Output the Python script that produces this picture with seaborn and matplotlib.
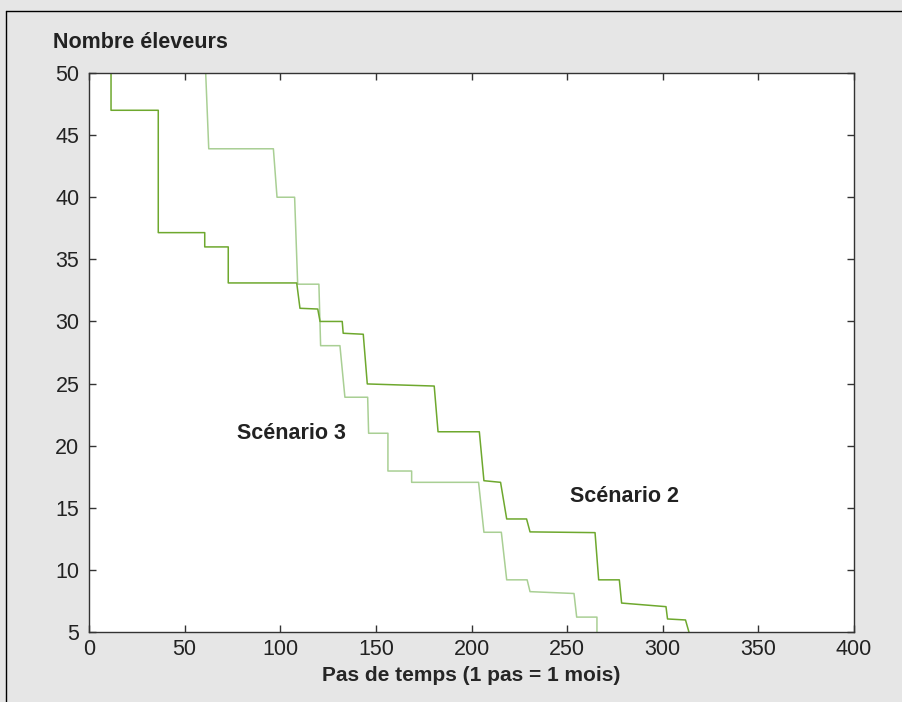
import matplotlib
matplotlib.use("Agg")
import matplotlib.pyplot as plt
from matplotlib.lines import Line2D
import pandas as pd
import seaborn as sns

# Scénario 2 (courbe foncée) - sommets de la courbe en escalier
scen2_x = [11.5, 11.5, 36.2, 36.2, 60.5, 60.5, 72.8, 72.8, 108.6, 110.3, 119.6, 120.8,
           132.4, 132.9, 143.4, 145.5, 180.5, 182.5, 204.1, 206.5, 215.2, 218.4, 228.8,
           230.6, 264.6, 266.5, 277.3, 278.5, 301.7, 302.5, 311.9, 313.7]
scen2_y = [50.0, 47.0, 47.0, 37.15, 37.15, 36.0, 36.0, 33.1, 33.1, 31.06, 31.0, 30.0,
           30.0, 29.05, 28.97, 24.97, 24.8, 21.12, 21.12, 17.18, 17.05, 14.1, 14.1,
           13.06, 13.0, 9.2, 9.2, 7.33, 7.04, 6.05, 5.97, 5.0]

# Scénario 3 (courbe claire)
scen3_x = [61.0, 62.6, 96.4, 98.3, 107.5, 109.1, 120.2, 121.1, 131.2, 133.8, 145.7, 146.2,
           156.3, 156.3, 168.7, 168.7, 203.7, 206.5, 215.6, 218.4, 229.1, 230.6, 253.6,
           255.0, 265.6, 265.6]
scen3_y = [50.0, 43.9, 43.9, 40.0, 40.0, 33.0, 33.0, 28.05, 28.05, 23.9, 23.9, 21.0,
           21.0, 17.96, 17.96, 17.05, 17.05, 13.03, 13.03, 9.2, 9.2, 8.25, 8.1,
           6.2, 6.2, 5.0]

x_ticks = [0, 50, 100, 150, 200, 250, 300, 350, 400]
y_ticks = [5, 10, 15, 20, 25, 30, 35, 40, 45, 50]

sns.set_style("ticks")
plt.rcParams['font.family'] = ['Liberation Sans', 'DejaVu Sans']
plt.rcParams['text.color'] = '#222222'

fig = plt.figure(figsize=(9.03, 7.02), dpi=100, facecolor='#e6e6e6')
ax = fig.add_axes([0.0986, 0.0997, 0.8471, 0.7963])
ax.set_facecolor('white')

df2 = pd.DataFrame({'x': scen2_x, 'y': scen2_y})
df3 = pd.DataFrame({'x': scen3_x, 'y': scen3_y})
sns.lineplot(data=df3, x='x', y='y', sort=False, estimator=None, ax=ax,
             color='#a9cf94', linewidth=1.1)
sns.lineplot(data=df2, x='x', y='y', sort=False, estimator=None, ax=ax,
             color='#6ea82e', linewidth=1.1)

ax.set_xlim(0, 400)
ax.set_ylim(5, 50)
ax.set_xticks(x_ticks)
ax.set_yticks(y_ticks)
ax.tick_params(direction='in', length=5, width=1, color='#333333',
               top=True, right=True, labelsize=15.5, labelcolor='#222222')
ax.tick_params(axis='y', pad=7)
ax.tick_params(axis='x', pad=5)
for s in ax.spines.values():
    s.set_visible(True)
    s.set_color('#333333')
    s.set_linewidth(1.0)

ax.set_xlabel('Pas de temps (1 pas = 1 mois)', fontsize=15, fontweight='bold', labelpad=4)
ax.set_ylabel('')
fig.text(53 / 903, 1 - 42 / 702, 'Nombre éleveurs', fontsize=15.5, fontweight='bold',
         ha='left', va='center')

ax.text(77.5, 21.0, 'Scénario 3', fontsize=15.5, fontweight='bold', ha='left', va='center')
ax.text(251.5, 15.9, 'Scénario 2', fontsize=15.5, fontweight='bold', ha='left', va='center')

# cadre de la figure (haut et gauche)
fig.add_artist(Line2D([5.5 / 903, 1], [1 - 10.5 / 702, 1 - 10.5 / 702],
                      transform=fig.transFigure, color='black', linewidth=1))
fig.add_artist(Line2D([5.5 / 903, 5.5 / 903], [0, 1 - 10.5 / 702],
                      transform=fig.transFigure, color='black', linewidth=1))

fig.savefig('out.png', dpi=100, facecolor=fig.get_facecolor())
